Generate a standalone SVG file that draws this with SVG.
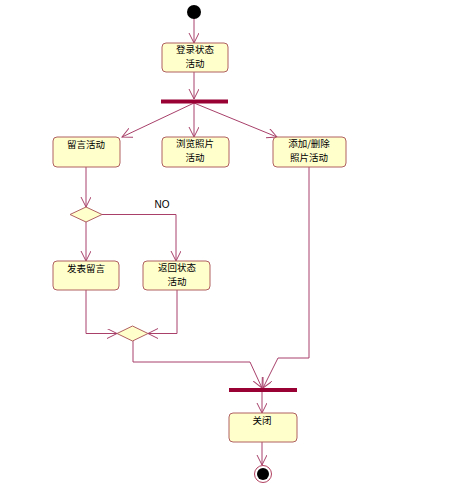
<svg xmlns="http://www.w3.org/2000/svg" width="470" height="500" viewBox="0 0 470 500">
<style>
.box{fill:#FFFFCC;stroke:#B06060;stroke-width:1}
.dec{fill:#FFFFCC;stroke:#B06060;stroke-width:1}
.bar{fill:#990033}
.ln{fill:none;stroke:#A8406A;stroke-width:1}
.t{font-family:"Noto Sans CJK SC","Noto Sans",sans-serif;font-size:9.5px;fill:#000;text-anchor:middle}
</style>
<defs>
<marker id="ar" markerUnits="userSpaceOnUse" markerWidth="12" markerHeight="12" refX="10" refY="5" orient="auto">
<path d="M0,0 L10,5 L0,10" fill="none" stroke="#A8406A" stroke-width="1"/>
</marker>
</defs>
<rect width="470" height="500" fill="#fff"/>
<g id="connectors">
<line class="ln" x1="194" y1="18" x2="194" y2="43" marker-end="url(#ar)"/>
<line class="ln" x1="194" y1="72" x2="194" y2="99" marker-end="url(#ar)"/>
<line class="ln" x1="194" y1="103" x2="122" y2="137" marker-end="url(#ar)"/>
<line class="ln" x1="194" y1="103" x2="194" y2="137" marker-end="url(#ar)"/>
<line class="ln" x1="194" y1="103" x2="277" y2="137" marker-end="url(#ar)"/>
<line class="ln" x1="86" y1="167" x2="86" y2="207" marker-end="url(#ar)"/>
<line class="ln" x1="86" y1="222" x2="86" y2="261" marker-end="url(#ar)"/>
<polyline class="ln" points="102,214.5 176,214.5 176,261" marker-end="url(#ar)"/>
<polyline class="ln" points="86,290 86,333.5 117,333.5" marker-end="url(#ar)"/>
<polyline class="ln" points="177,290 177,333.5 148,333.5" marker-end="url(#ar)"/>
<polyline class="ln" points="133,341 133,362 250,362 262,388" marker-end="url(#ar)"/>
<polyline class="ln" points="309,167 309,358 278,358 263,388" marker-end="url(#ar)"/>
<line class="ln" x1="262" y1="392" x2="262" y2="413" marker-end="url(#ar)"/>
<line class="ln" x1="262" y1="442" x2="262" y2="465" marker-end="url(#ar)"/>
<text class="t" x="162" y="208" style="font-family:'Liberation Sans',sans-serif;font-size:10px">NO</text>
</g>
<g id="start"><circle cx="194" cy="12" r="7" fill="#000"/></g>
<g id="login"><rect class="box" x="162" y="43" width="66" height="29" rx="4"/><text class="t" x="195" y="53">登录状态<tspan x="195" dy="14">活动</tspan></text></g>
<g id="fork1"><rect class="bar" x="161" y="99.5" width="67" height="4"/></g>
<g id="message"><rect class="box" x="53" y="137" width="67" height="30" rx="4"/><text class="t" x="86" y="148">留言活动</text></g>
<g id="browse"><rect class="box" x="162" y="137" width="67" height="30" rx="4"/><text class="t" x="195" y="147">浏览照片<tspan x="195" dy="14">活动</tspan></text></g>
<g id="addDelete"><rect class="box" x="273" y="137" width="73" height="30" rx="4"/><text class="t" x="309" y="147">添加/删除<tspan x="309" dy="14">照片活动</tspan></text></g>
<g id="decision1"><polygon class="dec" points="70,214.5 86,207 102,214.5 86,222"/></g>
<g id="post"><rect class="box" x="53" y="261" width="66" height="29" rx="4"/><text class="t" x="86" y="271.5">发表留言</text></g>
<g id="back"><rect class="box" x="143" y="261" width="67" height="29" rx="4"/><text class="t" x="177" y="271">返回状态<tspan x="177" dy="14">活动</tspan></text></g>
<g id="merge"><polygon class="dec" points="117,333.5 132.5,326 148,333.5 132.5,341"/></g>
<g id="join"><rect class="bar" x="229" y="388" width="68" height="4"/></g>
<g id="close"><rect class="box" x="229" y="413" width="68" height="29" rx="4"/><text class="t" x="262" y="424">关闭</text></g>
<g id="end"><circle cx="263" cy="474" r="8.5" fill="#fff" stroke="#B04060" stroke-width="1"/><circle cx="263" cy="474" r="6" fill="#000"/></g>
</svg>
